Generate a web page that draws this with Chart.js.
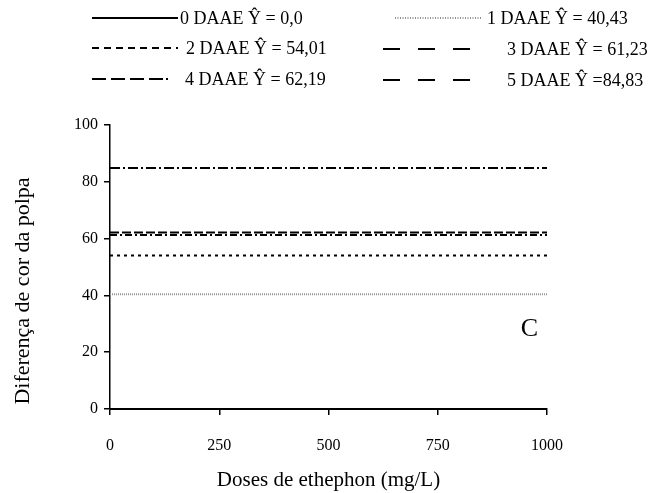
<!DOCTYPE html>
<html>
<head>
<meta charset="utf-8">
<script src="https://cdn.jsdelivr.net/npm/chart.js@4"></script>
<style>
  html, body { margin: 0; padding: 0; background: #fff; }
  #wrap { width: 670px; height: 493px; }
</style>
</head>
<body>
<div id="wrap"><canvas id="chart"></canvas></div>
<script>
// Doses de ethephon (mg/L)
const doses = [0, 250, 500, 750, 1000];
const xTicks = [0, 250, 500, 750, 1000];
const yTicks = [0, 20, 40, 60, 80, 100];

// Ajuste por dia após aplicação (DAAE)
const daae0 = [0, 0, 0, 0, 0];
const daae1 = [40.43, 40.43, 40.43, 40.43, 40.43];
const daae2 = [54.01, 54.01, 54.01, 54.01, 54.01];
const daae3 = [61.23, 61.23, 61.23, 61.23, 61.23];
const daae4 = [62.19, 62.19, 62.19, 62.19, 62.19];
const daae5 = [84.83, 84.83, 84.83, 84.83, 84.83];

const labels = [
  '0 DAAE Ŷ = 0,0',
  '1 DAAE Ŷ = 40,43',
  '2 DAAE Ŷ = 54,01',
  '3 DAAE Ŷ = 61,23',
  '4 DAAE Ŷ = 62,19',
  '5 DAAE Ŷ =84,83',
];

const serif = '"Liberation Serif", "Times New Roman", serif';

const toPoints = (arr) => arr.map((y, i) => ({ x: doses[i], y }));

// legend is drawn by hand: two columns, long line samples
const legendLayout = [
  { x0: 92, x1: 178, y: 18, tx: 180, dash: [] },
  { x0: 395, x1: 482, y: 18, tx: 487, dash: [1, 1.5] },
  { x0: 92, x1: 178, y: 48, tx: 186, dash: [7, 5] },
  { x0: 383, x1: 470, y: 49, tx: 507, dash: [17, 18] },
  { x0: 92, x1: 176, y: 79, tx: 185, dash: [14, 5, 14, 5, 14, 5, 14, 3, 2, 60] },
  { x0: 383, x1: 470, y: 80, tx: 507, dash: [17, 18] },
];

const handLegend = {
  id: 'handLegend',
  afterDraw(chart) {
    const ctx = chart.ctx;
    ctx.save();
    ctx.font = '18px ' + serif;
    ctx.textBaseline = 'middle';
    ctx.fillStyle = '#000';
    legendLayout.forEach((l, i) => {
      ctx.beginPath();
      ctx.setLineDash(l.dash);
      ctx.strokeStyle = i === 1 ? '#222' : '#000';
      ctx.lineWidth = i === 1 ? 1 : 2;
      ctx.moveTo(l.x0, l.y);
      ctx.lineTo(l.x1, l.y);
      ctx.stroke();
      ctx.setLineDash([]);
      ctx.fillText(labels[i], l.tx, l.y + 1);
    });
    // y title, sits a little below the plot centre in the original
    ctx.save();
    ctx.translate(23, 291);
    ctx.rotate(-Math.PI / 2);
    ctx.textAlign = 'center';
    ctx.font = '22px ' + serif;
    ctx.fillText('Diferença de cor da polpa', 0, 0);
    ctx.restore();
    // panel letter
    const xs = chart.scales.x, ys = chart.scales.y;
    ctx.font = '26px ' + serif;
    ctx.textAlign = 'center';
    ctx.fillText('C', xs.getPixelForValue(960), ys.getPixelForValue(28));
    ctx.restore();
  },
};

const base = { pointRadius: 0, tension: 0, fill: false, clip: false, borderWidth: 2, borderColor: '#000' };

new Chart(document.getElementById('chart'), {
  type: 'line',
  data: {
    datasets: [
      { ...base, label: labels[0], data: toPoints(daae0) },
      { ...base, label: labels[1], data: toPoints(daae1), borderColor: '#999999', borderWidth: 2, borderDash: [1, 1] },
      { ...base, label: labels[2], data: toPoints(daae2), borderDash: [3, 4] },
      { ...base, label: labels[3], data: toPoints(daae3), borderDash: [7, 3, 2, 3] },
      { ...base, label: labels[4], data: toPoints(daae4), borderDash: [9, 3] },
      { ...base, label: labels[5], data: toPoints(daae5), borderDash: [10, 3, 2, 3] },
    ],
  },
  options: {
    responsive: true,
    maintainAspectRatio: false,
    animation: false,
    layout: { padding: { top: 125, right: 123, bottom: 0, left: 0 } },
    plugins: { legend: { display: false }, tooltip: { enabled: false } },
    scales: {
      x: {
        type: 'linear',
        min: 0,
        max: 1000,
        afterBuildTicks: (s) => { s.ticks = xTicks.map(v => ({ value: v })); },
        afterFit: (s) => { s.height = 84; },
        grid: { drawOnChartArea: false, drawTicks: true, tickLength: 6, color: '#000', lineWidth: 1.5 },
        border: { color: '#000', width: 1.5 },
        ticks: { color: '#000', padding: 21, maxRotation: 0, font: { family: serif, size: 16 }, callback: (v) => String(v) },
        title: { display: true, text: 'Doses de ethephon (mg/L)', color: '#000', font: { family: serif, size: 21 }, padding: { top: 0, bottom: 0 } },
      },
      y: {
        min: 0,
        max: 100,
        afterBuildTicks: (s) => { s.ticks = yTicks.map(v => ({ value: v })); },
        afterFit: (s) => { s.width = 110; },
        grid: { drawOnChartArea: false, drawTicks: true, tickLength: 6, color: '#000', lineWidth: 1.5 },
        border: { color: '#000', width: 1.5 },
        ticks: { color: '#000', padding: 6, font: { family: serif, size: 16 } },
      },
    },
  },
  plugins: [handLegend],
});
</script>
</body>
</html>
